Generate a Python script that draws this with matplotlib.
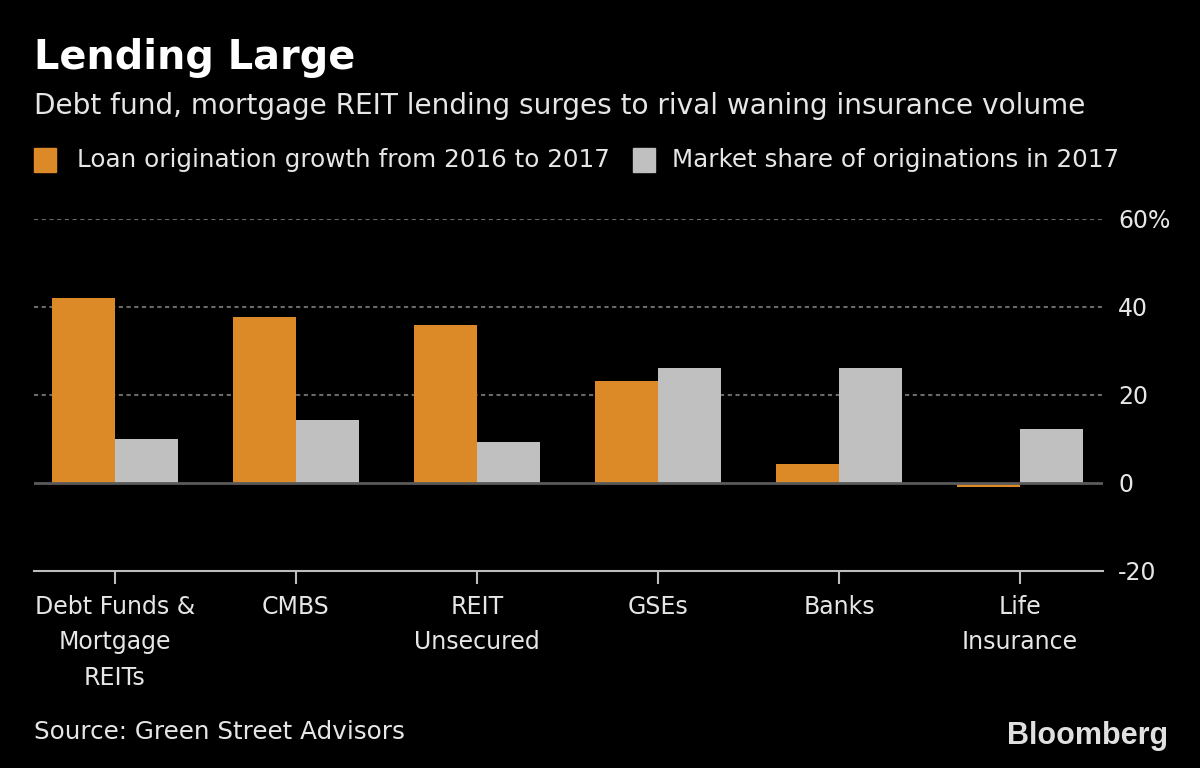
import matplotlib
matplotlib.use("Agg")
import matplotlib.pyplot as plt
import numpy as np

# data
categories = ["Debt Funds &\nMortgage\nREITs", "CMBS", "REIT\nUnsecured", "GSEs", "Banks", "Life\nInsurance"]
growth = [42.0, 37.8, 35.8, 23.2, 4.3, -0.9]
share = [10.0, 14.3, 9.3, 26.1, 26.1, 12.3]
yticks = [-20, 0, 20, 40, 60]
ytick_labels = ["-20", "0", "20", "40", "60%"]

orange = "#DC8A27"
gray = "#C0C0C0"
text_col = "#E6E6E6"

plt.rcParams['font.family'] = ['DejaVu Sans']

fig = plt.figure(figsize=(12, 7.68), dpi=100, facecolor="black")
ax = fig.add_axes([34/1200, 1-571/768, (1103-34)/1200, (571-219)/768])
ax.set_facecolor("black")

x = np.arange(len(categories))
w = 0.348
ax.bar(x - w/2, growth, w, color=orange, zorder=3)
ax.bar(x + w/2, share, w, color=gray, zorder=3)

ax.set_xlim(-0.4475, 5.459)
ax.set_ylim(-20, 60)

# dotted gridlines
for yv in [20, 40, 60]:
    ax.axhline(yv, color="#6a6a6a", lw=1.5, ls=(0, (2, 1.7)), zorder=1)
ax.axhline(0, color="#5a5a5a", lw=2, zorder=4)

for s in ["top", "left", "right"]:
    ax.spines[s].set_visible(False)
ax.spines["bottom"].set_color("#BDBDBD")
ax.spines["bottom"].set_linewidth(1.5)

ax.set_xticks(x)
ax.set_xticklabels(categories, color=text_col, fontsize=17, linespacing=1.62)
ax.tick_params(axis="x", colors="#BDBDBD", length=9, width=1.5, pad=8, labelcolor=text_col)

ax.yaxis.tick_right()
ax.set_yticks(yticks)
ax.set_yticklabels(ytick_labels, fontsize=17, color=text_col)
ax.tick_params(axis="y", length=0, pad=11)
for lbl in ax.get_yticklabels():
    lbl.set_horizontalalignment("left")

# titles
fig.text(34/1200, 1-58/768, "Lending Large", color="white", fontsize=28.7, fontweight="bold", va="center")
fig.text(34/1200, 1-106/768, "Debt fund, mortgage REIT lending surges to rival waning insurance volume",
         color=text_col, fontsize=20.2, va="center")

# legend
fig.patches.append(plt.Rectangle((34/1200, 1-172/768), 22/1200, 24/768, color=orange, transform=fig.transFigure))
fig.text(77/1200, 1-160/768, "Loan origination growth from 2016 to 2017", color=text_col, fontsize=17.7, va="center")
fig.patches.append(plt.Rectangle((633/1200, 1-172/768), 22/1200, 24/768, color=gray, transform=fig.transFigure))
fig.text(672/1200, 1-160/768, "Market share of originations in 2017", color=text_col, fontsize=17.7, va="center")

# footer
fig.text(34/1200, 1-732/768, "Source: Green Street Advisors", color=text_col, fontsize=17.7, va="center")
fig.text(1168/1200, 1-736/768, "Bloomberg", color="#E0E0E0", fontsize=22, fontweight="bold",
         ha="right", va="center", family=["Liberation Sans", "DejaVu Sans"])

fig.savefig("out.png", dpi=100, facecolor="black")
